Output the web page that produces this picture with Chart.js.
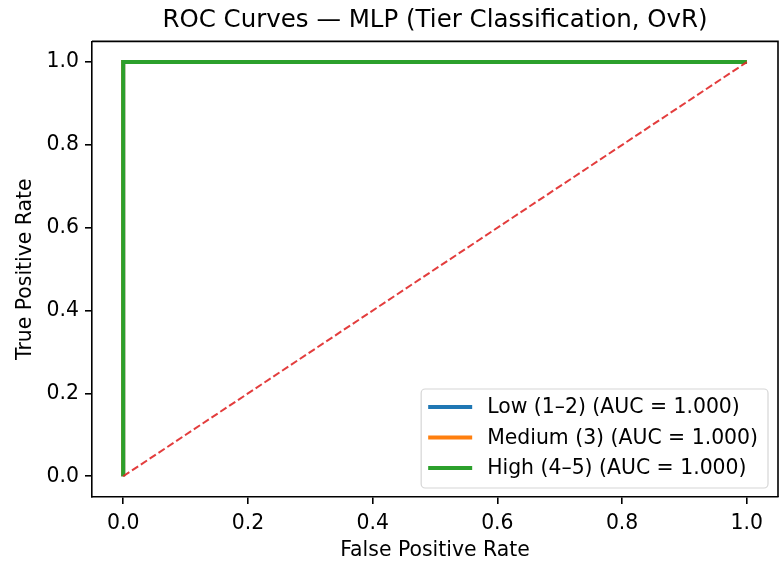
<!DOCTYPE html>
<html>
<head>
<meta charset="utf-8">
<script src="https://cdn.jsdelivr.net/npm/chart.js@4"></script>
<style>
  html, body { margin: 0; padding: 0; background: #fff; }
  #wrap { width: 784px; height: 565px; }
</style>
</head>
<body>
<div id="wrap"><canvas id="rocChart" width="784" height="565"></canvas></div>
<script>
// ===========================
// Data
// ===========================

const classNames = ['Low (1\u20132)', 'Medium (3)', 'High (4\u20135)'];
const classAuc = [1.000, 1.000, 1.000];
const classColors = ['#1f77b4', '#ff7f0e', '#2ca02c'];

const lowFpr = [0, 0, 1];
const lowTpr = [0, 1, 1];
const mediumFpr = [0, 0, 1];
const mediumTpr = [0, 1, 1];
const highFpr = [0, 0, 1];
const highTpr = [0, 1, 1];

const chanceFpr = [0, 1];
const chanceTpr = [0, 1];

const xTicks = [0.0, 0.2, 0.4, 0.6, 0.8, 1.0];
const yTicks = [0.0, 0.2, 0.4, 0.6, 0.8, 1.0];

const FONT = "'DejaVu Sans', 'Liberation Sans', sans-serif";

function toPoints(xs, ys) {
    return xs.map((x, i) => ({ x: x, y: ys[i] }));
}

const curves = [
    toPoints(lowFpr, lowTpr),
    toPoints(mediumFpr, mediumTpr),
    toPoints(highFpr, highTpr)
];

// ===========================
// Plugins
// ===========================

// top and right spines
const frameBox = {
    id: 'frameBox',
    afterDatasetsDraw(chart) {
        const { ctx, chartArea: a } = chart;
        ctx.save();
        ctx.strokeStyle = '#000';
        ctx.lineWidth = 1.6;
        ctx.beginPath();
        ctx.moveTo(a.left, a.top);
        ctx.lineTo(a.right, a.top);
        ctx.lineTo(a.right, a.bottom);
        ctx.stroke();
        ctx.restore();
    }
};

// matplotlib-style legend in the lower right corner
const innerLegend = {
    id: 'innerLegend',
    afterDraw(chart) {
        const { ctx, chartArea: a } = chart;
        const items = chart.data.datasets.filter(d => d.label);
        ctx.save();
        ctx.font = '20.4px ' + FONT;
        const textW = Math.max(...items.map(d => ctx.measureText(d.label).width));
        const padL = 7, handle = 44, gap = 15, padR = 10;
        const boxW = padL + handle + gap + textW + padR;
        const boxH = 99;
        const x0 = a.right - 10 - boxW;
        const y0 = a.bottom - 9 - boxH;

        ctx.beginPath();
        ctx.roundRect(x0, y0, boxW, boxH, 4);
        ctx.fillStyle = 'rgba(255,255,255,0.8)';
        ctx.fill();
        ctx.strokeStyle = '#d6d6d6';
        ctx.lineWidth = 1.2;
        ctx.stroke();

        items.forEach((d, i) => {
            const cy = y0 + 18 + i * 30.5;
            ctx.strokeStyle = d.borderColor;
            ctx.lineWidth = 4;
            ctx.beginPath();
            ctx.moveTo(x0 + padL, cy);
            ctx.lineTo(x0 + padL + handle, cy);
            ctx.stroke();
            ctx.fillStyle = '#000';
            ctx.textBaseline = 'middle';
            ctx.textAlign = 'left';
            ctx.fillText(d.label, x0 + padL + handle + gap, cy + 1);
        });
        ctx.restore();
    }
};

// ===========================
// Chart
// ===========================

// matplotlib draws later lines on top: High last, chance line above all
const datasets = curves.map((pts, i) => ({
    label: `${classNames[i]} (AUC = ${classAuc[i].toFixed(3)})`,
    data: pts,
    borderColor: classColors[i],
    backgroundColor: classColors[i],
    borderWidth: 4,
    showLine: true,
    pointRadius: 0,
    tension: 0,
    order: curves.length - i
}));

datasets.push({
    label: '',
    data: toPoints(chanceFpr, chanceTpr),
    borderColor: 'rgba(224,40,40,0.9)',
    borderWidth: 2,
    borderDash: [7.4, 3.2],
    showLine: true,
    pointRadius: 0,
    order: 0
});

function axisOptions(tickValues, titleText, isY) {
    return {
        type: 'linear',
        min: -0.05,
        max: 1.05,
        afterBuildTicks(scale) {
            scale.ticks = tickValues.map(v => ({ value: v }));
        },
        afterFit(scale) {
            if (isY) scale.width = 92;
            else scale.height = 68;
        },
        ticks: {
            color: '#000',
            font: { family: FONT, size: 20.4 },
            padding: isY ? 6 : 7,
            callback: v => Number(v).toFixed(1)
        },
        grid: {
            drawOnChartArea: false,
            tickLength: 7,
            tickColor: '#000',
            lineWidth: 1.6
        },
        border: { display: true, color: '#000', width: 1.6 },
        title: {
            display: true,
            text: titleText,
            color: '#000',
            font: { family: FONT, size: 20.4 },
            padding: isY ? { top: 13, bottom: 0 } : { top: 0, bottom: 2 }
        }
    };
}

new Chart(document.getElementById('rocChart'), {
    type: 'scatter',
    data: { datasets: datasets },
    options: {
        responsive: false,
        devicePixelRatio: 1,
        animation: false,
        layout: { padding: { left: 0, right: 6, top: 0, bottom: 0 } },
        plugins: {
            legend: { display: false },
            tooltip: { enabled: false },
            title: {
                display: true,
                fullSize: false,
                text: 'ROC Curves \u2014 MLP (Tier Classification, OvR)',
                color: '#000',
                font: { family: FONT, size: 24.5, weight: 'normal' },
                padding: { top: 6, bottom: 6 }
            }
        },
        scales: {
            x: axisOptions(xTicks, 'False Positive Rate', false),
            y: axisOptions(yTicks, 'True Positive Rate', true)
        }
    },
    plugins: [frameBox, innerLegend]
});
</script>
</body>
</html>
